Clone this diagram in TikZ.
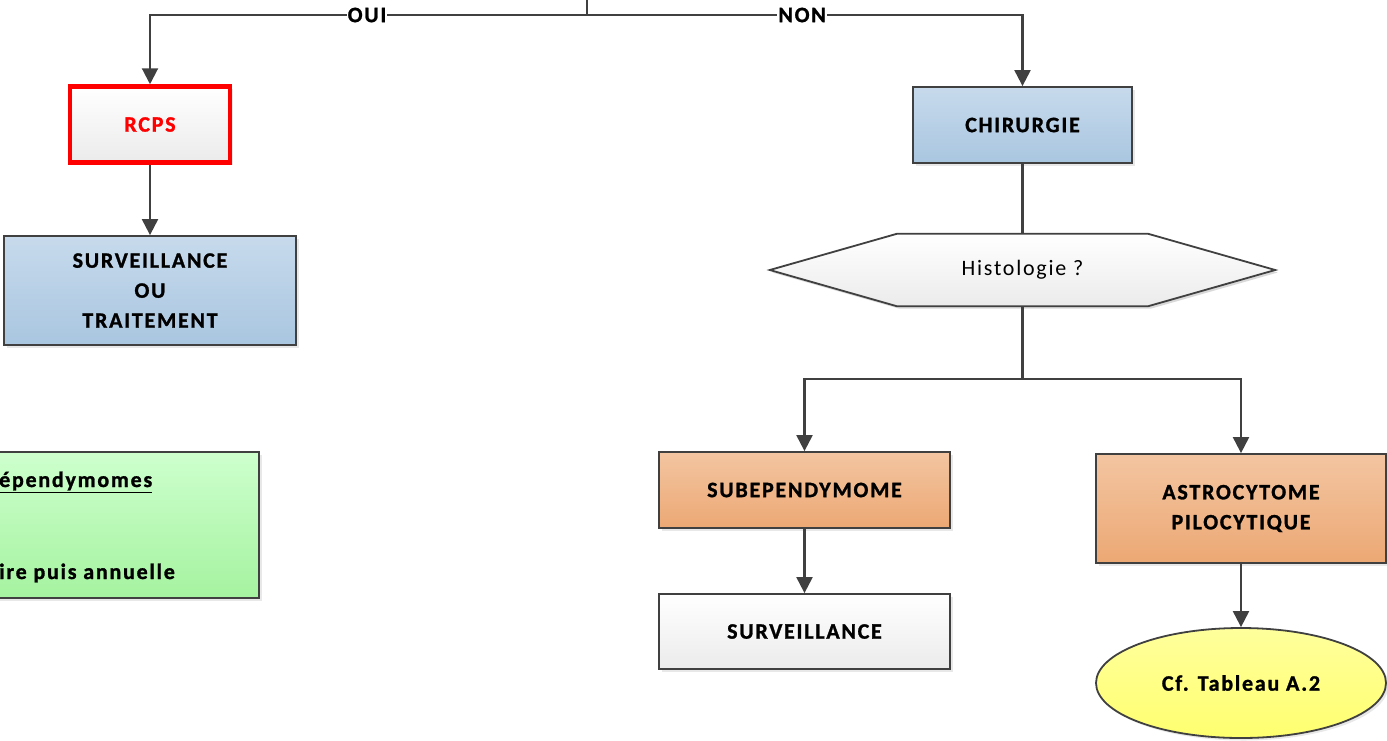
\documentclass[tikz,border=0pt]{standalone}
\usepackage{fontspec}
\setmainfont{Carlito}[LetterSpace=8, BoldFeatures={FakeBold=1.2}]
\usetikzlibrary{arrows.meta,shapes.geometric,shadows,calc}
\definecolor{boxline}{HTML}{404040}
\definecolor{blueT}{HTML}{C7DAEC}
\definecolor{blueB}{HTML}{A9C6E0}
\definecolor{orT}{HTML}{F3C5A1}
\definecolor{orB}{HTML}{ECA874}
\definecolor{grT}{HTML}{FFFFFF}
\definecolor{grB}{HTML}{EBEBEB}
\definecolor{gnT}{HTML}{CDFFCD}
\definecolor{gnB}{HTML}{A5F3A0}
\definecolor{yeT}{HTML}{FFFF9C}
\definecolor{yeB}{HTML}{FFFF70}
\definecolor{rcpsred}{HTML}{FF0000}
\begin{document}
\begin{tikzpicture}[x=1pt,y=-1pt,
  font=\fontsize{22}{30}\selectfont\bfseries,
  shad/.style={drop shadow={opacity=0.18,shadow xshift=2.5pt,shadow yshift=-2.5pt}},
  box/.style={draw=boxline, line width=1.8pt, align=center, inner sep=0pt, shad},
  bluebox/.style={box, top color=blueT, bottom color=blueB},
  orbox/.style={box, top color=orT, bottom color=orB},
  graybox/.style={box, top color=grT, bottom color=grB},
  arr/.style={draw=boxline, line width=2.1pt, -{Triangle[length=16pt,width=16pt]}},
  ln/.style={draw=boxline, line width=2.1pt},
  lbl/.style={fill=white, inner sep=1pt, font=\fontsize{22}{24}\selectfont\bfseries}]
\useasboundingbox (0,0) rectangle (1387,740);
\clip (0,0) rectangle (1387,740);

% nodes
\node[graybox, draw=rcpsred, line width=4.5pt, text=rcpsred, minimum width=160pt, minimum height=76pt] (rcps) at (150,124.5) {RCPS};
\node[bluebox, minimum width=292pt, minimum height=109pt] (survtr) at (150,290.5) {SURVEILLANCE\\OU\\TRAITEMENT};
\node[box, top color=gnT, bottom color=gnB, minimum width=409pt, minimum height=146pt] (green) at (54.5,525) {};
\node[anchor=base west, inner sep=0pt] (g1) at (-1,487) {\underline{épendymomes}};
\node[anchor=base west, inner sep=0pt] (g2) at (-1,579) {ire puis annuelle};

\node[bluebox, minimum width=219pt, minimum height=76pt] (chir) at (1022.5,125) {CHIRURGIE};
\node[minimum width=505pt, minimum height=72pt, inner sep=0pt] (hex) at (1022.5,270) {};
\fill[black, opacity=0.15] ($(hex.west)+(2.5,2.5)$) -- ($(hex.north west)+(129.5,2.5)$) -- ($(hex.north east)+(-124.5,2.5)$) -- ($(hex.east)+(2.5,2.5)$) -- ($(hex.south east)+(-124.5,2.5)$) -- ($(hex.south west)+(129.5,2.5)$) -- cycle;
\draw[boxline, line width=1.8pt, top color=grT, bottom color=grB] (hex.west) -- ($(hex.north west)+(127,0)$) -- ($(hex.north east)+(-127,0)$) -- (hex.east) -- ($(hex.south east)+(-127,0)$) -- ($(hex.south west)+(127,0)$) -- cycle;
\node[font=\fontsize{22}{24}\selectfont] (hextext) at (hex.center) {Histologie ?};

\node[orbox, minimum width=291pt, minimum height=76pt] (sub) at (804.5,490) {SUBEPENDYMOME};
\node[graybox, minimum width=291pt, minimum height=75pt] (surv) at (804.5,631.5) {SURVEILLANCE};
\node[orbox, minimum width=290pt, minimum height=109pt] (astro) at (1241,508.5) {ASTROCYTOME\\PILOCYTIQUE};
\node[ellipse, box, top color=yeT, bottom color=yeB, minimum width=290pt, minimum height=110pt] (cf) at (1241,683) {Cf. Tableau A.2};

% connectors
\coordinate (top) at (587,0);
\coordinate (mid) at (587,15);
\coordinate (split) at (1022.5,379);
\draw[ln] (top) -- (mid);
\draw[arr] (mid) -| node[lbl,pos=0.2517]{OUI} (rcps.north);
\draw[arr] (mid) -| node[lbl,pos=0.247]{NON} (chir.north);
\draw[arr] (rcps.south) -- (survtr.north);
\draw[ln] (chir.south) -- (hex.north);
\draw[ln] (hex.south) -- (split);
\draw[arr] (split) -| (sub.north);
\draw[arr] (split) -| (astro.north);
\draw[arr] (sub.south) -- (surv.north);
\draw[arr] (astro.south) -- (cf.north);
\end{tikzpicture}
\end{document}
